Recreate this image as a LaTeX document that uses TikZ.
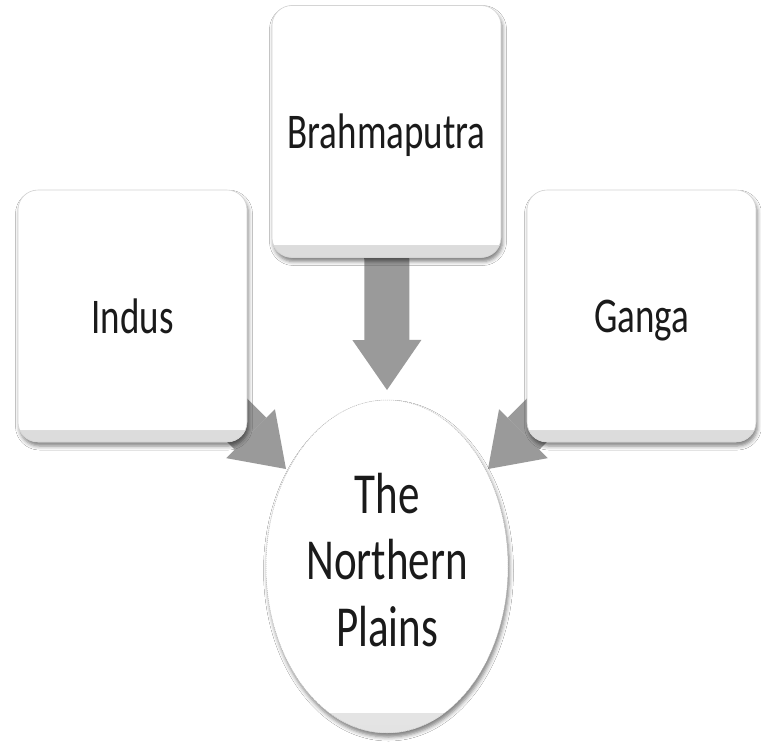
\documentclass[tikz,border=0pt]{standalone}
\usepackage{fontspec}
\setmainfont{Carlito}
\usetikzlibrary{shapes.geometric,shadows.blur,arrows.meta,backgrounds}
\definecolor{arrowgray}{HTML}{9A9A9A}
\definecolor{edgegray}{HTML}{D4D4D4}
\definecolor{txtcol}{HTML}{1A1A1A}
\newcommand\vstretch[1]{\scalebox{1}[1.35]{#1}}
\begin{document}
\begin{tikzpicture}[x=1pt,y=-1pt,
  boxnode/.style={rectangle, rounded corners=20pt, minimum width=229pt, minimum height=252pt,
    inner sep=0pt, fill=white, draw=edgegray, line width=0.6pt, text=txtcol,
    font=\fontsize{37}{44}\selectfont, text depth=0pt,
    blur shadow={shadow xshift=1.5pt, shadow yshift=-4pt, shadow blur radius=4pt, shadow opacity=50},
    path picture={\shade[sharp corners, top color=gray!8, bottom color=gray!28]
      ([yshift=12pt]path picture bounding box.south west) rectangle (path picture bounding box.south east);}},
  centernode/.style={ellipse, minimum width=242pt, minimum height=333pt, inner sep=0pt,
    fill=white, draw=gray!55, line width=0.5pt, dash pattern=on 1pt off 1pt, text=txtcol,
    font=\fontsize{43}{49.3}\selectfont,
    blur shadow={shadow xshift=1.5pt, shadow yshift=-4pt, shadow blur radius=4pt, shadow opacity=50},
    path picture={\shade[sharp corners, top color=gray!6, bottom color=gray!22]
      ([yshift=20pt]path picture bounding box.south west) rectangle (path picture bounding box.south east);}},
  flowarrow/.style={line width=45pt, draw=arrowgray,
    -{Triangle[length=50pt,width=69pt,line width=0pt,color=arrowgray,fill=arrowgray]}}
]
\useasboundingbox (0,0) rectangle (761,744);
\node[boxnode] (indus) at (132.5,316) {\vstretch{Indus}};
\node[boxnode] (brahma) at (386.5,131.5) {\vstretch{Brahmaputra}};
\node[boxnode] (ganga) at (641.5,316) {\vstretch{Ganga}};
\node[centernode] (plains) at (387,566.5)
  {\raisebox{-2pt}{\vstretch{\begin{tabular}{@{}c@{}}The\\Northern\\Plains\end{tabular}}}};
\coordinate (btip) at (387,390);
\coordinate (itip) at (286,469);
\coordinate (gtip) at (488,469);
\begin{pgfonlayer}{background}
\fill[white] (0,0) rectangle (761,744);
\draw[flowarrow] (brahma.center) -- (btip);
\draw[flowarrow] (indus.center) -- (itip);
\draw[flowarrow] (ganga.center) -- (gtip);
\end{pgfonlayer}
\end{tikzpicture}
\end{document}
